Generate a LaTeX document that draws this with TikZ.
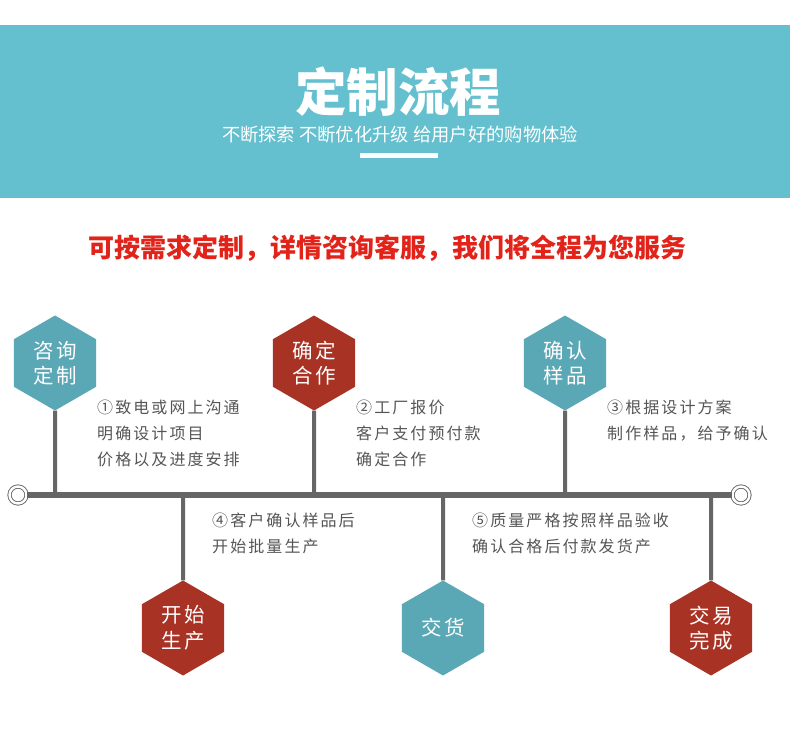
\documentclass[tikz,border=0pt]{standalone}
\usepackage{fontspec}
\setmainfont{Noto Sans CJK SC}
\usepackage{tikz}
\usetikzlibrary{positioning,shapes.geometric,backgrounds}
\usepackage{xcolor}
\definecolor{bandcol}{HTML}{64C0CE}
\definecolor{tealhex}{HTML}{5AA8B5}
\definecolor{redhex}{HTML}{A83224}
\definecolor{slogan}{HTML}{E2231A}
\definecolor{linegray}{HTML}{666666}
\definecolor{txtgray}{HTML}{555555}
\tikzset{
  hexnode/.style = {regular polygon, regular polygon sides=6, shape border rotate=30,
                    inner sep=0pt, minimum size=95pt, text=white, align=center,
                    font=\fontsize{20.5}{25.5}\selectfont\addfontfeatures{LetterSpace=14}},
  tealhx/.style  = {hexnode, fill=tealhex},
  redhx/.style   = {hexnode, fill=redhex},
  note/.style    = {anchor=north west, inner sep=0pt, align=left, text=txtgray,
                    font=\fontsize{16}{26}\selectfont\addfontfeatures{LetterSpace=13}},
  stem/.style    = {line width=4pt, draw=linegray},
  axis/.style    = {line width=6pt, draw=linegray},
  endring/.style = {circle, draw=linegray, line width=0.9pt, double=white,
                    double distance=2.4pt, fill=white, minimum size=17pt, inner sep=0pt},
}

\begin{document}
\begin{tikzpicture}[x=1pt,y=-1pt]
\useasboundingbox (0,0) rectangle (790,729);
\fill[bandcol] (0,25) rectangle (790,198);
\node[text=white,font=\fontsize{51.5}{51.5}\selectfont\bfseries] (title) at (398,92) {定制流程};
\node[text=white,font=\fontsize{18.3}{18.3}\selectfont] (sub) at (400,135) {不断探索 不断优化升级 给用户好的购物体验};
\node[fill=white,minimum width=78pt,minimum height=5pt,inner sep=0pt] (bar) at (399,155) {};
\node[text=slogan,font=\fontsize{26}{26}\selectfont\bfseries] (slog) at (387,248) {可按需求定制，详情咨询客服，我们将全程为您服务};

% timeline
\node[endring] (lend) at (18,495) {};
\node[endring] (rend) at (741,495) {};
\draw[axis] (lend.east) -- (rend.west);
\coordinate (tl) at (400,495);

% steps
\node[tealhx] (h1) at (55,363) {咨询\\定制};
\node[redhx]  (h2) at (314,363) {确定\\合作};
\node[tealhx] (h3) at (565,363) {确认\\样品};
\node[redhx]  (h4) at (183,628) {开始\\生产};
\node[tealhx] (h5) at (443,628) {交货};
\node[redhx]  (h6) at (711,628) {交易\\完成};

\begin{scope}[on background layer]
\foreach \h in {h1,h2,h3,h4,h5,h6}
  \draw[stem] (\h) -- (\h |- tl);
\end{scope}

\node[note] (t1) at (97,400) {①致电或网上沟通\\明确设计项目\\价格以及进度安排};
\node[note] (t2) at (356,400) {②工厂报价\\客户支付预付款\\确定合作};
\node[note] (t3) at (607,400) {③根据设计方案\\制作样品，给予确认};
\node[note] (t4) at (212,513) {④客户确认样品后\\开始批量生产};
\node[note] (t5) at (472,513) {⑤质量严格按照样品验收\\确认合格后付款发货产};
\end{tikzpicture}
\end{document}
